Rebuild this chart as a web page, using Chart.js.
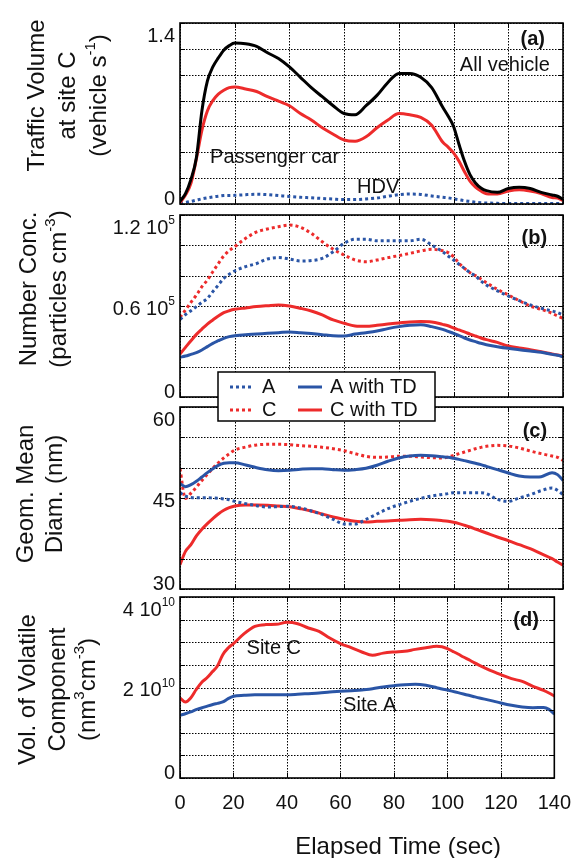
<!DOCTYPE html>
<html>
<head>
<meta charset="utf-8">
<script src="https://cdn.jsdelivr.net/npm/chart.js@4.4.1/dist/chart.umd.min.js"></script>
<style>
body { margin: 0; background: #fff; }
#wrap { position: relative; width: 584px; height: 858px; }
#wrap canvas { position: absolute; left: 0; }
</style>
</head>
<body>
<div id="wrap">
  <canvas id="panelA" width="584" height="210" style="top:0px"></canvas>
  <canvas id="panelB" width="584" height="200" style="top:200px"></canvas>
  <canvas id="panelC" width="584" height="235" style="top:360px"></canvas>
  <canvas id="panelD" width="584" height="266" style="top:592px"></canvas>
</div>
<script>
// Elapsed time (sec), shared by every series
const time = [0,2,4,6,8,10,12,14,16,18,20,24,28,32,36,40,44,48,52,56,60,64,68,72,76,80,84,88,92,96,98,100,102,104,106,108,110,112,116,120,124,128,132,136,138,140];

// (a) traffic volume at site C (vehicle/s)
const allVehicle = [0.02,0.08,0.19,0.36,0.72,0.95,1.06,1.13,1.19,1.225,1.245,
  1.24,1.22,1.17,1.125,1.06,0.98,0.90,0.83,0.76,0.70,0.69,0.76,0.84,0.94,1.01,1.01,0.98,0.90,0.75,
  0.68,0.60,0.46,0.33,0.227,0.163,0.124,0.103,
  0.09,0.12,0.13,0.12,0.09,0.07,
  0.06,0.035];
const passengerCar = [0.01,0.07,0.16,0.35,0.57,0.72,0.80,0.85,0.88,0.90,0.905,
  0.89,0.87,0.83,0.795,0.76,0.70,0.65,0.59,0.54,0.495,0.485,0.52,0.59,0.65,0.70,0.69,0.67,0.61,0.48,
  0.44,0.395,0.33,0.25,0.176,0.13,0.10,0.08,
  0.077,0.10,0.11,0.10,0.08,0.05,
  0.046,0.026];
const hdv = [0.008,0.012,0.02,0.03,0.04,0.048,0.055,0.06,0.065,0.066,0.067,
  0.072,0.075,0.072,0.065,0.058,0.052,0.048,0.043,0.038,0.034,0.034,0.039,0.046,0.06,0.072,0.077,0.074,0.062,0.052,
  0.048,0.04,0.033,0.026,0.02,0.014,0.01,0.008,
  0.005,0.004,0.003,0.003,0.003,0.003,
  0.003,0.003];

// (b) number concentration (10^5 particles/cm3)
const numA = [0.512,0.543,0.569,0.596,0.624,0.65,0.695,0.738,0.782,0.809,0.831,
  0.86,0.88,0.91,0.919,0.91,0.897,0.90,0.914,0.958,1.013,1.04,1.04,1.03,1.03,1.03,1.03,1.04,1.002,0.958,
  0.93,0.903,0.875,0.848,0.82,0.798,0.765,0.738,
  0.70,0.666,0.635,0.607,0.585,0.567,
  0.556,0.54];
const numAtd = [0.262,0.27,0.281,0.292,0.31,0.332,0.354,0.371,0.387,0.398,0.404,
  0.411,0.415,0.42,0.424,0.429,0.424,0.418,0.411,0.404,0.402,0.415,0.424,0.435,0.451,0.464,0.473,0.477,0.464,0.446,
  0.433,0.42,0.404,0.389,0.376,0.365,0.354,0.345,
  0.332,0.321,0.312,0.303,0.295,0.281,
  0.275,0.266];
const numC = [0.525,0.574,0.624,0.672,0.727,0.771,0.826,0.88,0.93,0.965,0.991,
  1.046,1.088,1.108,1.123,1.134,1.119,1.079,1.024,0.974,0.936,0.903,0.892,0.903,0.919,0.932,0.947,0.963,0.974,0.965,
  0.952,0.925,0.881,0.848,0.82,0.80,0.778,0.754,
  0.71,0.673,0.635,0.60,0.578,0.552,
  0.534,0.519];
const numCtd = [0.283,0.327,0.371,0.413,0.448,0.481,0.508,0.534,0.556,0.569,0.578,
  0.587,0.596,0.602,0.607,0.60,0.585,0.567,0.541,0.508,0.486,0.468,0.466,0.473,0.481,0.488,0.495,0.497,0.495,0.479,
  0.47,0.455,0.442,0.429,0.415,0.402,0.389,0.378,
  0.36,0.336,0.323,0.312,0.299,0.284,
  0.277,0.27];

// (c) geometric mean diameter (nm)
const diamA = [45.9,45.3,45.1,45.05,45.05,45.05,45.0,44.95,44.85,44.7,44.45,
  44.07,43.74,43.5,43.57,43.63,43.35,42.86,42.25,41.48,40.71,40.71,41.48,42.36,43.24,43.9,44.45,44.95,45.33,45.6,
  45.72,45.88,45.88,45.88,45.88,45.88,45.88,45.72,
  44.78,44.45,45.0,45.55,46.21,46.65,
  46.26,45.55];
const diamAtd = [47.36,46.87,47.2,47.75,48.46,49.18,49.84,50.39,50.72,50.83,50.83,
  50.45,50.0,49.65,49.5,49.56,49.73,49.84,49.84,49.67,49.56,49.67,49.89,50.39,51.05,51.6,51.92,52.03,51.98,51.8,
  51.7,51.54,51.37,51.16,50.94,50.72,50.5,50.22,
  49.67,49.12,48.63,48.46,48.52,49.18,
  48.85,47.9];
const diamC = [49.8,44.9,45.8,46.8,47.9,48.9,49.9,50.8,51.6,52.3,52.9,
  53.4,53.74,53.85,53.85,53.79,53.63,53.52,53.35,53.13,52.8,52.31,51.87,51.7,51.76,51.87,51.87,51.76,51.65,51.6,
  51.76,52.03,52.31,52.58,52.86,53.13,53.35,53.52,
  53.68,53.57,53.24,52.75,52.31,51.92,
  51.7,51.2];
const diamCtd = [34.0,36.2,37.3,38.74,39.84,40.77,41.6,42.36,42.97,43.4,43.68,
  43.85,43.85,43.8,43.68,43.57,43.24,42.86,42.36,41.87,41.48,41.15,41.04,41.15,41.2,41.32,41.43,41.48,41.43,41.26,
  41.15,40.99,40.77,40.5,40.22,39.89,39.56,39.23,
  38.57,37.97,37.3,36.65,35.82,35.0,
  34.45,33.9];

// (d) volume of volatile component (10^10 nm3/cm3)
const volC = [1.768,1.68,1.77,1.95,2.107,2.21,2.34,2.475,2.726,2.873,2.97,
  3.19,3.35,3.39,3.396,3.44,3.41,3.315,3.24,3.094,2.97,2.88,2.785,2.71,2.76,2.785,2.80,2.843,2.88,2.91,
  2.90,2.858,2.80,2.74,2.674,2.615,2.55,2.49,
  2.38,2.284,2.195,2.136,2.026,1.937,
  1.878,1.81];
const volA = [1.385,1.42,1.46,1.51,1.547,1.584,1.62,1.65,1.68,1.753,1.805,
  1.827,1.84,1.84,1.84,1.84,1.85,1.864,1.878,1.90,1.915,1.93,1.945,1.974,2.01,2.04,2.063,2.07,2.048,1.996,
  1.967,1.945,1.915,1.886,1.856,1.827,1.797,1.768,
  1.716,1.657,1.606,1.57,1.554,1.56,
  1.517,1.414];

// labelled y ticks for each panel
const ticksA = [0, 1.4];
const ticksB = [0, 0.6, 1.2];
const ticksC = [30, 45, 60];
const ticksD = [0, 2, 4];

const FONT = "'Liberation Sans', Arial, Helvetica, sans-serif";
const RED = '#ed2b2b';
const BLUE = '#2a55a6';

// split 'abc^{sup}def' into [text, isSup] pieces
function parseRich(str) {
    const parts = [];
    str.split(/(\^\{[^}]*\})/).forEach(s => {
        if (!s) return;
        if (s.startsWith('^{')) parts.push([s.slice(2, -1), true]);
        else parts.push([s, false]);
    });
    return parts;
}

function drawRich(ctx, str, x, y, size, align, bold) {
    const parts = parseRich(str);
    const supSize = Math.round(size * 0.62);
    const fontFor = sup => `${bold ? 'bold ' : ''}${sup ? supSize : size}px ${FONT}`;
    let w = 0;
    parts.forEach(([s, sup]) => { ctx.font = fontFor(sup); w += ctx.measureText(s).width; });
    let cx = align === 'right' ? x - w : align === 'center' ? x - w / 2 : x;
    ctx.textAlign = 'left';
    ctx.textBaseline = 'middle';
    parts.forEach(([s, sup]) => {
        ctx.font = fontFor(sup);
        ctx.fillText(s, cx, sup ? y - size * 0.36 : y);
        cx += ctx.measureText(s).width;
    });
}

function drawLegend(chart, area) {
    const ctx = chart.ctx;
    const bx = area.left + 38, by = area.top - 35, bw = 217, bh = 49;
    ctx.fillStyle = '#fff';
    ctx.fillRect(bx, by, bw, bh);
    ctx.strokeStyle = '#000';
    ctx.lineWidth = 1.5;
    ctx.strokeRect(bx, by, bw, bh);
    chart.data.datasets.forEach((ds, i) => {
        const row = i >> 1, col = i & 1;
        const cy = by + 15 + row * 23;
        const lx = bx + (col ? 80 : 12);
        ctx.save();
        ctx.strokeStyle = ds.borderColor;
        ctx.lineWidth = 3;
        ctx.setLineDash(ds.borderDash);
        ctx.beginPath();
        ctx.moveTo(lx, cy);
        ctx.lineTo(lx + 24, cy);
        ctx.stroke();
        ctx.restore();
        ctx.fillStyle = '#111';
        drawRich(ctx, ds.label, lx + 32, cy, 20, 'left');
    });
}

// dotted grid (MATLAB "grid on"), drawn under the lines
const dottedGrid = {
    id: 'dottedGrid',
    beforeDatasetsDraw(chart) {
        const { ctx, chartArea: area, scales: { x, y } } = chart;
        ctx.save();
        ctx.strokeStyle = '#000';
        ctx.lineWidth = 1;
        ctx.setLineDash([1.5, 1.5]);
        ctx.beginPath();
        x.ticks.forEach(t => {
            const px = Math.round(x.getPixelForValue(t.value)) + 0.5;
            ctx.moveTo(px, area.top);
            ctx.lineTo(px, area.bottom);
        });
        y.ticks.forEach(t => {
            const py = Math.round(y.getPixelForValue(t.value)) + 0.5;
            ctx.moveTo(area.left, py);
            ctx.lineTo(area.right, py);
        });
        ctx.stroke();
        ctx.restore();
    }
};

// frame, inner ticks, tick labels, notes and titles
const panelDecor = {
    id: 'panelDecor',
    afterDraw(chart, args, opts) {
        const { ctx, chartArea: area, scales: { x, y } } = chart;
        ctx.save();
        ctx.strokeStyle = '#000';
        ctx.lineWidth = 1;
        ctx.beginPath();
        x.ticks.forEach(t => {
            const px = Math.round(x.getPixelForValue(t.value)) + 0.5;
            ctx.moveTo(px, area.top); ctx.lineTo(px, area.top + 5);
            ctx.moveTo(px, area.bottom); ctx.lineTo(px, area.bottom - 5);
        });
        y.ticks.forEach(t => {
            const py = Math.round(y.getPixelForValue(t.value)) + 0.5;
            ctx.moveTo(area.left, py); ctx.lineTo(area.left + 5, py);
            ctx.moveTo(area.right, py); ctx.lineTo(area.right - 5, py);
        });
        ctx.stroke();
        ctx.lineWidth = 1.6;
        ctx.strokeRect(area.left, area.top, area.right - area.left, area.bottom - area.top);

        ctx.fillStyle = '#111';
        opts.yTicks.forEach(v => {
            const py = Math.min(Math.max(y.getPixelForValue(v) + 3, area.top + 13), area.bottom - 5);
            const text = v === 0 || !opts.exp ? String(v) : `${v} 10^{${opts.exp}}`;
            drawRich(ctx, text, area.left - 5, py, 20, 'right');
        });

        (opts.notes || []).forEach(n => {
            drawRich(ctx, n.text, x.getPixelForValue(n.x), y.getPixelForValue(n.y), 20, n.align || 'left', n.bold);
        });

        const t = opts.title;
        const cy = (area.top + area.bottom) / 2 + t.dy;
        t.lines.forEach((line, i) => {
            ctx.save();
            ctx.translate(t.x + i * t.step, cy);
            ctx.rotate(-Math.PI / 2);
            drawRich(ctx, line, 0, 0, 24, 'center');
            ctx.restore();
        });

        if (opts.xTitle) {
            drawRich(ctx, opts.xTitle, (area.left + area.right) / 2 + 31, area.bottom + 69, 24, 'center');
        }
        if (opts.legend) drawLegend(chart, area);
        ctx.restore();
    }
};

function pts(arr) {
    return time.map((t, i) => ({ x: t, y: arr[i] }));
}

function series(label, arr, color, dotted) {
    return {
        label: label,
        data: pts(arr),
        borderColor: color,
        backgroundColor: color,
        borderWidth: 3,
        borderDash: dotted ? [3, 3] : [],
        borderCapStyle: 'butt',
        pointRadius: 0,
        cubicInterpolationMode: 'monotone',
        fill: false
    };
}

function makePanel(id, datasets, yMin, yMax, yStep, padding, decor, showX) {
    return new Chart(document.getElementById(id), {
        type: 'line',
        data: { datasets },
        options: {
            responsive: false,
            devicePixelRatio: 1,
            animation: false,
            events: [],
            layout: { padding },
            plugins: { legend: { display: false }, tooltip: { enabled: false }, panelDecor: decor },
            scales: {
                x: {
                    type: 'linear', min: 0, max: 140,
                    ticks: { display: showX, stepSize: 20, autoSkip: false, maxRotation: 0, padding: 13,
                             color: '#111', font: { family: FONT, size: 20 } },
                    grid: { display: false, drawTicks: false },
                    border: { display: false },
                    afterFit: s => { s.height = showX ? 80 : 0; }
                },
                y: {
                    min: yMin, max: yMax,
                    ticks: { display: false, stepSize: yStep },
                    grid: { display: false, drawTicks: false },
                    border: { display: false },
                    afterFit: s => { s.width = 180; }
                }
            }
        },
        plugins: [dottedGrid, panelDecor]
    });
}

makePanel('panelA', [
    series('All vehicle', allVehicle, '#000', false),
    series('Passenger car', passengerCar, RED, false),
    series('HDV', hdv, BLUE, true)
], 0, 1.4, 0.2, { top: 23, bottom: 6, left: 0, right: 21 }, {
    yTicks: ticksA,
    title: { lines: ['Traffic Volume', 'at site C', '(vehicle s^{-1})'], x: 37, step: 31, dy: -18 },
    notes: [
        { text: '(a)', x: 133.4, y: 1.272, align: 'right', bold: true },
        { text: 'All vehicle', x: 102.3, y: 1.071 },
        { text: 'Passenger car', x: 11.0, y: 0.363 },
        { text: 'HDV', x: 64.7, y: 0.128 }
    ]
}, false);

makePanel('panelB', [
    series('A', numA, BLUE, true),
    series('A with TD', numAtd, BLUE, false),
    series('C', numC, RED, true),
    series('C with TD', numCtd, RED, false)
], 0, 1.2, 0.2, { top: 15, bottom: 3, left: 0, right: 21 }, {
    yTicks: ticksB, exp: 5,
    title: { lines: ['Number Conc.', '(particles cm^{-3})'], x: 29, step: 30, dy: -17 },
    notes: [{ text: '(b)', x: 134.2, y: 1.045, align: 'right', bold: true }]
}, false);

makePanel('panelC', [
    series('A', diamA, BLUE, true),
    series('A with TD', diamAtd, BLUE, false),
    series('C', diamC, RED, true),
    series('C with TD', diamCtd, RED, false)
], 30, 60, 5, { top: 47, bottom: 6, left: 0, right: 21 }, {
    yTicks: ticksC,
    title: { lines: ['Geom. Mean', 'Diam. (nm)'], x: 26, step: 29, dy: -4 },
    notes: [{ text: '(c)', x: 134.2, y: 56.0, align: 'right', bold: true }],
    legend: true
}, false);

makePanel('panelD', [
    series('Site C', volC, RED, false),
    series('Site A', volA, BLUE, false)
], 0, 4, 0.5, { top: 5, bottom: 0, left: 0, right: 21 }, {
    yTicks: ticksD, exp: 10,
    title: { lines: ['Vol. of Volatile', 'Component', '(nm^{3}cm^{-3})'], x: 28, step: 30, dy: 2 },
    notes: [
        { text: '(d)', x: 134.2, y: 3.48, align: 'right', bold: true },
        { text: 'Site C', x: 24.9, y: 2.86 },
        { text: 'Site A', x: 61.0, y: 1.60 }
    ],
    xTitle: 'Elapsed Time (sec)'
}, true);
</script>
</body>
</html>
